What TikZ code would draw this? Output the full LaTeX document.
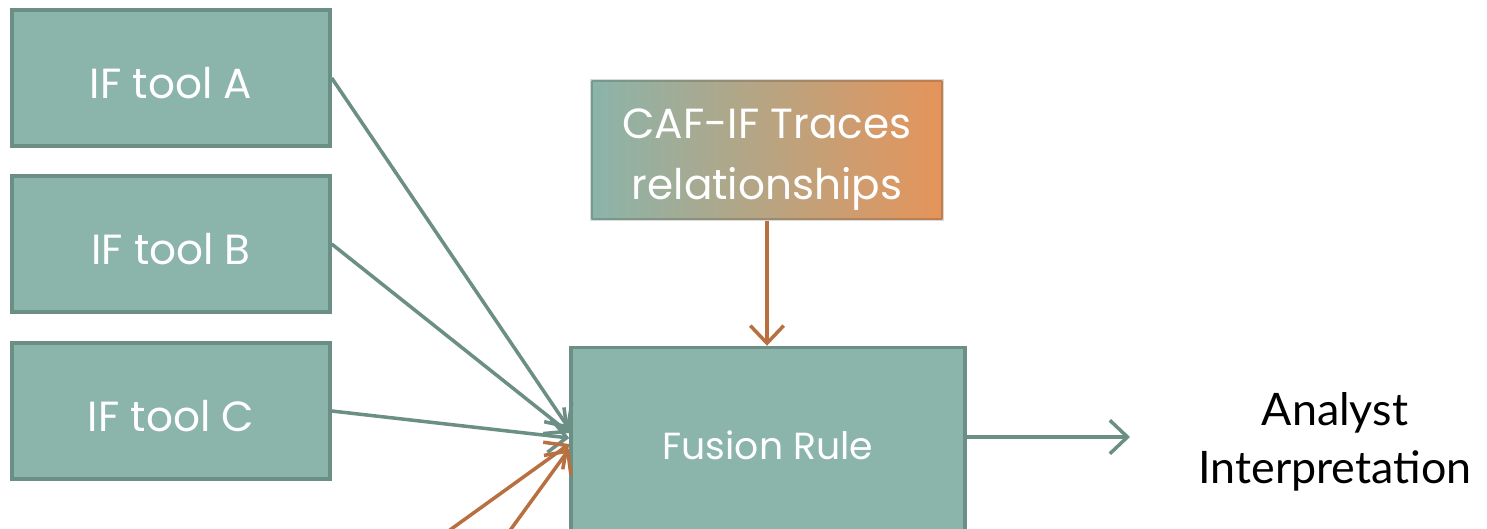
\documentclass[tikz,border=0pt]{standalone}
\usepackage{fontspec}
\setmainfont{Poppins}
\newfontfamily\labelfont{Lato}
\usetikzlibrary{arrows.meta,calc}

\definecolor{boxfill}{RGB}{139,180,170}
\definecolor{boxline}{RGB}{107,142,133}
\definecolor{rust}{RGB}{184,112,64}
\definecolor{peach}{RGB}{229,148,90}

\tikzset{
  toolbox/.style={draw=boxline, fill=boxfill, line width=2pt,
    minimum width=6.36cm, minimum height=2.72cm, text=white,
    font=\fontsize{24}{30}\selectfont},
  inputbox/.style={toolbox, text height=23pt, text depth=0pt},
  gradbox/.style={left color=boxfill, right color=peach, draw=black,
    draw opacity=0.15, line width=2pt, minimum width=7.02cm,
    minimum height=2.78cm, text=white, align=center,
    font=\fontsize{24}{35}\selectfont},
  flow/.style={line width=2pt, draw=boxline,
    -{Straight Barb[length=10pt,width=19pt,line width=2pt]}},
  rustflow/.style={flow, draw=rust},
}

\begin{document}
\begin{tikzpicture}[x=0.02cm, y=-0.02cm]
  \useasboundingbox (0,0) rectangle (1487,528);
  \clip (0,0) rectangle (1487,528);

  % input tools
  \node[inputbox] (ta) at (171,78) {IF tool A};
  \node[inputbox] (tb) at (171,244) {IF tool B};
  \node[inputbox] (tc) at (171,411) {IF tool C};

  % trace relationships and fusion
  \node[gradbox] (caf) at (767,150) {\rule{0pt}{28pt}CAF-IF Traces\\relationships};
  \node[toolbox, minimum width=7.88cm, minimum height=3.9cm,
        font=\fontsize{21.5}{28}\selectfont] (fus) at (768,445) {Fusion Rule};

  % output
  \node[font=\labelfont\fontsize{25.5}{33}\selectfont, align=center] (out) at (1335,442) {Analyst\\Interpretation};
  \coordinate (outin) at (1130,437);

  % further inputs entering from below
  \coordinate (o1) at (436,540);
  \coordinate (o2) at (503,540);

  \draw[flow] (ta.east) -- ([yshift=0.32cm]fus.west);
  \draw[flow] (tb.east) -- ([yshift=0.24cm]fus.west);
  \draw[flow] (tc.east) -- ([yshift=0.14cm]fus.west);
  \draw[rustflow] (o1) -- ([yshift=0.02cm]fus.west);
  \draw[rustflow] (o2) -- ([yshift=-0.08cm]fus.west);
  \draw[rustflow] (caf.south) -- (caf.south |- fus.north);
  \draw[flow] (fus.east |- outin) -- (outin);
\end{tikzpicture}
\end{document}
